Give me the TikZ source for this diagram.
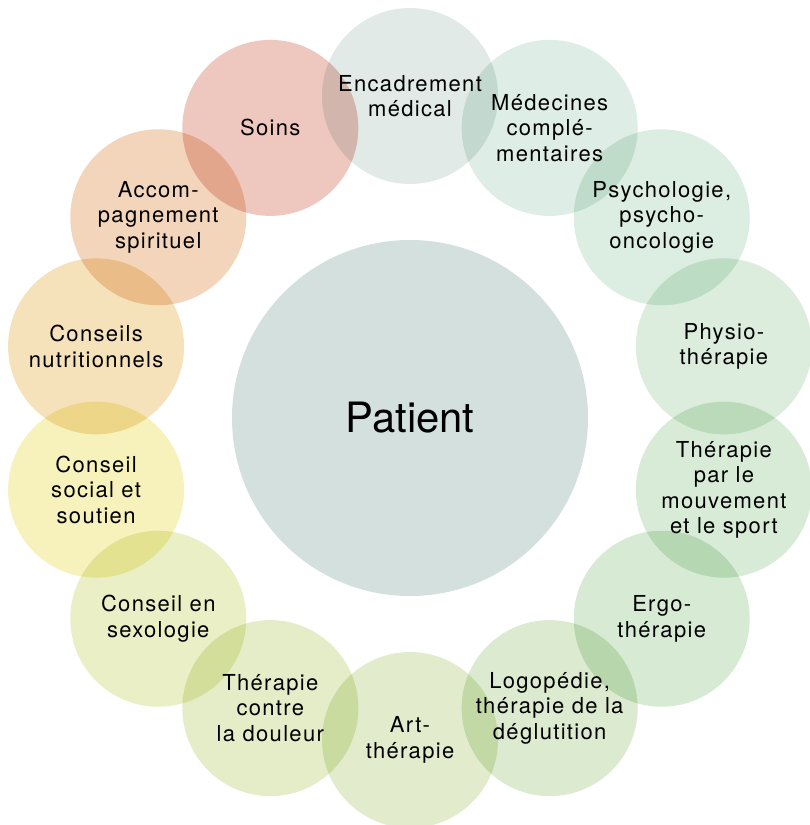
\documentclass[tikz,border=0pt]{standalone}
\usepackage{fontspec}
\setmainfont{TeX Gyre Heros}[LetterSpace=6]
\newfontfamily\patientfont{TeX Gyre Heros}

\definecolor{patientc}{RGB}{211,224,222}
\definecolor{encadrementc}{RGB}{225,234,231}
\definecolor{medecinesc}{RGB}{222,237,229}
\definecolor{psychoc}{RGB}{220,237,226}
\definecolor{physioc}{RGB}{220,237,222}
\definecolor{mouvementc}{RGB}{216,235,214}
\definecolor{ergoc}{RGB}{214,234,212}
\definecolor{logoc}{RGB}{220,234,207}
\definecolor{artc}{RGB}{226,236,204}
\definecolor{douleurc}{RGB}{228,237,200}
\definecolor{sexoc}{RGB}{235,239,197}
\definecolor{socialc}{RGB}{247,242,188}
\definecolor{nutric}{RGB}{246,226,186}
\definecolor{spiric}{RGB}{243,213,187}
\definecolor{soinsc}{RGB}{238,199,191}

\tikzset{petal/.style={circle, minimum size=176pt, inner sep=0pt, align=center,
		font=\fontsize{22}{25.5}\selectfont}}

% angle, colour, name, text
\newcommand{\petal}[4]{\node[petal, fill=#2] (#3) at ({410+322*cos(#1)},{418-322*sin(#1)}) {#4};}

\begin{document}
\begin{tikzpicture}[x=1pt, y=-1pt]
				
				\useasboundingbox (0,0) rectangle (809,825);
				
				\begin{scope}[blend mode=multiply]
					\node[circle, minimum size=356pt, inner sep=0pt, fill=patientc] (patient) at (410,418)
						{\patientfont\fontsize{41.8}{50}\selectfont Patient};
					
					\petal{90}{encadrementc}{encadrement}{Encadrement\\médical}
					\petal{64.29}{medecinesc}{medecines}{Médecines\\complé-\\mentaires}
					\petal{38.57}{psychoc}{psycho}{Psychologie,\\psycho-\\oncologie}
					\petal{12.86}{physioc}{physio}{Physio-\\thérapie}
					\petal{-12.86}{mouvementc}{mouvement}{Thérapie\\par le\\mouvement\\et le sport}
					\petal{-38.57}{ergoc}{ergo}{Ergo-\\thérapie}
					\petal{-64.29}{logoc}{logo}{Logopédie,\\thérapie de la\\déglutition}
					\petal{-90}{artc}{art}{Art-\\thérapie}
					\petal{-115.71}{douleurc}{douleur}{Thérapie\\contre\\la douleur}
					\petal{-141.43}{sexoc}{sexo}{Conseil en\\sexologie}
					\petal{-167.14}{socialc}{social}{Conseil\\social et\\soutien}
					\petal{167.14}{nutric}{nutri}{Conseils\\nutritionnels}
					\petal{141.43}{spiric}{spiri}{Accom-\\pagnement\\spirituel}
					\petal{115.71}{soinsc}{soins}{Soins}
				\end{scope}
								
\end{tikzpicture}
\end{document}
